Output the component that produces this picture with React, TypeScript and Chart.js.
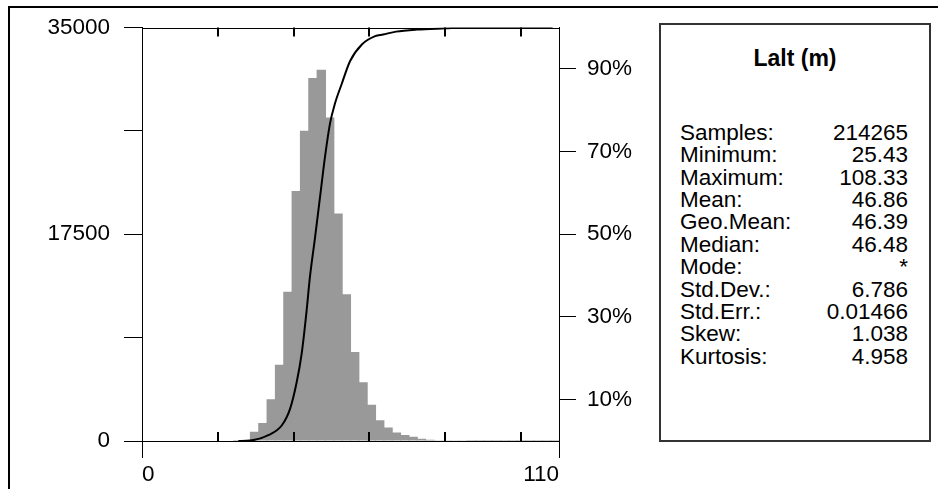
import React, { useEffect, useRef } from "react";
import { Chart, registerables } from "chart.js";

Chart.register(...registerables);

// ---- data ----
const binCenters = [
  25.3, 27.5, 29.7, 31.9, 34.1, 36.3, 38.5, 40.7, 42.9, 45.1, 47.3, 49.5, 51.7,
  53.9, 56.1, 58.3, 60.5, 62.7, 64.9, 67.1, 69.3, 71.5, 73.7, 75.9, 78.1, 80.3,
  82.5, 84.7, 86.9, 89.1, 91.3, 93.5, 95.7, 97.9, 100.1, 102.3, 104.5, 106.7, 108.9,
];
const binCounts = [
  5, 60, 780, 1530, 3540, 6450, 12640, 21160, 26270, 30730, 31430, 27380, 19260,
  12420, 7540, 4970, 3070, 1760, 1150, 730, 500, 360, 190, 110, 60, 30, 20, 15,
  10, 8, 6, 5, 4, 3, 2, 2, 1, 1, 1,
];
const cdfValues = [
  25.43, 28.5, 33.3, 36.9, 39.1, 40.8, 42.1, 43.4, 44.3, 45.6, 47.0, 48.3, 49.6,
  50.9, 52.7, 54.9, 58.0, 61.5, 63.6, 67.0, 72.5, 80.0, 85.7, 95.0, 108.33,
];
const cdfPercent = [
  0, 0.1, 1.4, 3.8, 7.9, 14.2, 21.0, 31.3, 39.7, 48.9, 59.3, 68.9, 76.8, 81.6,
  86.4, 91.9, 95.9, 97.9, 98.3, 99.0, 99.5, 99.8, 100, 100, 100,
];
const leftTicks = [0, 8750, 17500, 26250, 35000];
const leftTickLabels = ["0", "", "17500", "", "35000"];
const rightTicks = [10, 30, 50, 70, 90];
const xLabelTicks = [0, 110];
const xInnerTicks = [20, 40, 60, 80, 100];
const statTitle = "Lalt (m)";
const statLabels = [
  "Samples:", "Minimum:", "Maximum:", "Mean:", "Geo.Mean:", "Median:", "Mode:",
  "Std.Dev.:", "Std.Err.:", "Skew:", "Kurtosis:",
];
const statValues = [
  "214265", "25.43", "108.33", "46.86", "46.39", "46.48", "*", "6.786",
  "0.01466", "1.038", "4.958",
];

const FONT = '"Liberation Sans", Arial, Helvetica, sans-serif';
const FS = 22.5;

const framePlugin = {
  id: "framePlugin",
  afterDatasetsDraw(chart: any) {
    const { ctx, chartArea, scales } = chart;
    const x = scales.x;
    ctx.save();
    ctx.strokeStyle = "#000";
    ctx.lineWidth = 1;
    ctx.beginPath();
    ctx.moveTo(chartArea.left, Math.round(chartArea.top) + 0.5);
    ctx.lineTo(chartArea.right, Math.round(chartArea.top) + 0.5);
    ctx.stroke();
    ctx.lineWidth = 2;
    for (const v of xInnerTicks) {
      const px = Math.round(x.getPixelForValue(v));
      ctx.beginPath();
      ctx.moveTo(px, chartArea.top);
      ctx.lineTo(px, chartArea.top + 9);
      ctx.moveTo(px, chartArea.bottom);
      ctx.lineTo(px, chartArea.bottom - 9);
      ctx.stroke();
    }
    ctx.restore();
  },
};

export default function App() {
  const ref = useRef<HTMLCanvasElement | null>(null);

  useEffect(() => {
    if (!ref.current) return;
    Chart.defaults.font.family = FONT;
    Chart.defaults.color = "#000";
    const chart = new Chart(ref.current, {
      type: "bar",
      data: {
        datasets: [
          {
            type: "line",
            data: cdfValues.map((v, i) => ({ x: v, y: cdfPercent[i] })),
            yAxisID: "y2",
            xAxisID: "x",
            borderColor: "#000",
            borderWidth: 2,
            pointRadius: 0,
            cubicInterpolationMode: "monotone",
            order: 0,
          } as any,
          {
            type: "bar",
            data: binCenters.map((v, i) => ({ x: v, y: binCounts[i] })),
            yAxisID: "y",
            xAxisID: "x",
            backgroundColor: "#999999",
            borderWidth: 0,
            barPercentage: 1.13,
            categoryPercentage: 1,
            order: 1,
          } as any,
        ],
      },
      options: {
        animation: false,
        responsive: false,
        devicePixelRatio: 1,
        layout: { padding: { left: 0, right: 938 - 559 - 80, top: 23, bottom: 0 } },
        plugins: { legend: { display: false }, tooltip: { enabled: false } },
        events: [],
        scales: {
          x: {
            type: "linear",
            position: "bottom",
            offset: false,
            min: 0,
            max: 110,
            afterBuildTicks: (s: any) => {
              s.ticks = xLabelTicks.map((v) => ({ value: v }));
            },
            afterFit: (s: any) => {
              s.height = 48;
            },
            grid: {
              offset: false,
              drawOnChartArea: false,
              drawTicks: true,
              tickLength: 17,
              color: "#000",
              tickColor: "#000",
              lineWidth: 1,
            },
            border: { display: true, color: "#000", width: 1 },
            ticks: {
              align: "inner",
              padding: 3,
              color: "#000",
              font: { size: FS, family: FONT },
              maxRotation: 0,
              autoSkip: false,
              callback: (v: any) => String(v),
            },
          },
          y: {
            type: "linear",
            position: "left",
            min: 0,
            max: 35000,
            afterBuildTicks: (s: any) => {
              s.ticks = leftTicks.map((v) => ({ value: v }));
            },
            afterFit: (s: any) => {
              s.width = 142;
            },
            grid: {
              drawOnChartArea: false,
              drawTicks: true,
              tickLength: 18,
              color: "#000",
              tickColor: "#000",
              lineWidth: 1,
            },
            border: { display: true, color: "#000", width: 1 },
            ticks: {
              padding: 14,
              color: "#000",
              font: { size: FS, family: FONT },
              autoSkip: false,
              callback: (_v: any, i: number) => leftTickLabels[i],
            },
          },
          y2: {
            type: "linear",
            position: "right",
            min: 0,
            max: 100,
            afterBuildTicks: (s: any) => {
              s.ticks = rightTicks.map((v) => ({ value: v }));
            },
            afterFit: (s: any) => {
              s.width = 80;
            },
            grid: {
              drawOnChartArea: false,
              drawTicks: true,
              tickLength: 17,
              color: "#000",
              tickColor: "#000",
              lineWidth: 1,
            },
            border: { display: true, color: "#000", width: 1 },
            ticks: {
              padding: 11,
              color: "#000",
              font: { size: FS, family: FONT },
              autoSkip: false,
              callback: (v: any) => v + "%",
            },
          },
        },
      } as any,
      plugins: [framePlugin],
    });
    return () => chart.destroy();
  }, []);

  const textStyle: React.CSSProperties = {
    position: "absolute",
    fontFamily: FONT,
    fontSize: FS,
    lineHeight: "22.4px",
    color: "#000",
    whiteSpace: "nowrap",
  };

  return (
    <div style={{ position: "absolute", left: 0, top: 0, width: 938, height: 489, background: "#fff", overflow: "hidden" }}>
      <canvas ref={ref} width={938} height={489} style={{ position: "absolute", left: 0, top: 0, width: 938, height: 489 }} />
      <div
        style={{
          position: "absolute",
          left: 8,
          top: 6,
          width: 1000,
          height: 600,
          borderLeft: "2px solid #000",
          borderTop: "2px solid #000",
          pointerEvents: "none",
        }}
      />
      <div
        style={{
          position: "absolute",
          left: 659,
          top: 23,
          width: 272,
          height: 419,
          border: "2px solid #333",
          boxSizing: "border-box",
          background: "#fff",
        }}
      />
      <div style={{ ...textStyle, left: 659, width: 272, top: 46.8, textAlign: "center", fontWeight: "bold", fontSize: 23 }}>
        {statTitle}
      </div>
      {statLabels.map((lab, i) => (
        <div
          key={lab}
          style={{
            ...textStyle,
            left: 680,
            width: 228,
            top: 121.8 + i * 22.4,
            display: "flex",
            justifyContent: "space-between",
          }}
        >
          <span>{lab}</span>
          <span>{statValues[i]}</span>
        </div>
      ))}
    </div>
  );
}
